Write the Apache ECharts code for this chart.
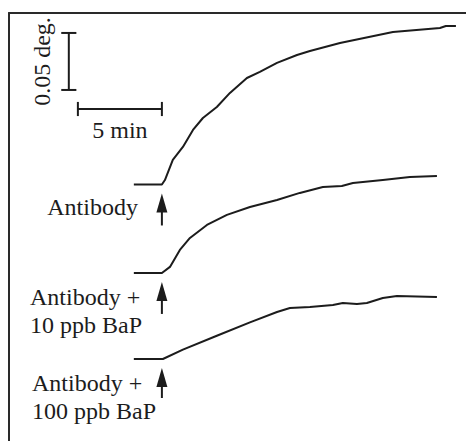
<!DOCTYPE html>
<html>
<head>
<meta charset="utf-8">
<script src="https://cdn.jsdelivr.net/npm/echarts@6/dist/echarts.min.js"></script>
<style>
html,body{margin:0;padding:0;background:#fff;}
#chart{width:466px;height:441px;}
</style>
</head>
<body>
<div id="chart"></div>
<script>
// Time (min, injection at 0) and response (deg, relative to each trace's baseline)
const t1 = [-1.67, 0, 0.18, 0.65, 1.25, 1.85, 2.44, 3.27, 4.05, 5.06, 5.83, 6.85, 8.04, 8.81, 10.6, 13.75, 16.55, 16.9, 17.5];
const r1 = [0, 0, 0.0039, 0.0215, 0.0329, 0.0478, 0.0583, 0.068, 0.0803, 0.0934, 0.0987, 0.1066, 0.1136, 0.1171, 0.1241, 0.1338, 0.1373, 0.139, 0.139];

const t2 = [-1.67, 0, 0.48, 1.07, 1.67, 2.68, 3.87, 5.24, 6.85, 8.21, 9.58, 10.71, 11.37, 13.15, 14.76, 16.37];
const r2 = [0, 0, 0.0053, 0.0202, 0.0307, 0.0421, 0.0509, 0.0579, 0.064, 0.0702, 0.0754, 0.0763, 0.0789, 0.0816, 0.0842, 0.0851];

const t3 = [-1.67, 0.06, 1.25, 3.27, 5.24, 6.85, 7.62, 8.81, 10.18, 10.77, 11.61, 12.2, 13.15, 13.99, 16.37];
const r3 = [0, 0, 0.0082, 0.0204, 0.0322, 0.0412, 0.0447, 0.0456, 0.0474, 0.0491, 0.0482, 0.0491, 0.0535, 0.0553, 0.0544];

const labels = [["Antibody"], ["Antibody +", "10 ppb BaP"], ["Antibody +", "100 ppb BaP"]];
const scaleX = 5;      // min
const scaleY = 0.05;   // deg
const scaleXLabel = "5 min";
const scaleYLabel = "0.05 deg.";

// vertical stacking of traces (deg)
const offsets = [0.225, 0.1474, 0.0719];

const INK = '#1c1c1c';
const FONT = "'Times New Roman', 'Liberation Serif', serif";
const fs = 24;

function zip(t, r, off) { return t.map((x, i) => [x, +(r[i] + off).toFixed(5)]); }
function seg(a, b) {
  return { type: 'line', data: [a, b], showSymbol: false, silent: true,
    lineStyle: { color: INK, width: 2 }, animation: false };
}
function txt(x, y, s, align, extra) {
  return Object.assign({ type: 'text', x: x, y: y,
    style: { text: s, fontFamily: FONT, fontSize: fs, fill: INK, align: align, verticalAlign: 'middle' } }, extra || {});
}

const traces = [[t1, r1], [t2, r2], [t3, r3]];
const series = traces.map((tr, i) => ({
  type: 'line', data: zip(tr[0], tr[1], offsets[i]), showSymbol: false, smooth: false,
  lineStyle: { color: INK, width: 2, join: 'round' }, animation: false
}));

// scale bars
const vx = -5.54, vb = 0.3079;
series.push(seg([vx, vb], [vx, vb + scaleY]));
series.push(seg([vx - 0.45, vb], [vx + 0.45, vb]));
series.push(seg([vx - 0.45, vb + scaleY], [vx + 0.45, vb + scaleY]));
const hy = 0.2912, hx0 = -scaleX, hx1 = 0;
series.push(seg([hx0, hy], [hx1, hy]));
series.push(seg([hx0, hy - 0.0062], [hx0, hy + 0.0062]));
series.push(seg([hx1, hy - 0.0062], [hx1, hy + 0.0062]));

const chart = echarts.init(document.getElementById('chart'), null, { renderer: 'svg' });
chart.setOption({
  animation: false,
  backgroundColor: '#fff',
  grid: { left: 9, top: 13, right: 0, bottom: 0 },
  xAxis: { type: 'value', min: -9.1, max: 18.1, position: 'top',
    axisLine: { show: true, onZero: false, lineStyle: { color: '#2a2a2a', width: 2 } },
    axisTick: { show: false }, axisLabel: { show: false }, splitLine: { show: false } },
  yAxis: { type: 'value', min: 0, max: 0.3754,
    axisLine: { show: true, onZero: false, lineStyle: { color: '#2a2a2a', width: 2 } },
    axisTick: { show: false }, axisLabel: { show: false }, splitLine: { show: false } },
  series: series
});

// arrows and labels placed relative to each trace's baseline at injection time
const g = [];
offsets.forEach((off, i) => {
  const p = chart.convertToPixel({ gridIndex: 0 }, [0, off]);
  const x = p[0], y = p[1];
  const tip = y + 9, headEnd = tip + 19, shaftEnd = tip + (i === 2 ? 30 : 32);
  g.push({ type: 'polygon', shape: { points: [[x, tip], [x - 5.5, headEnd], [x + 5.5, headEnd]] }, style: { fill: INK } });
  g.push({ type: 'line', shape: { x1: x, y1: headEnd - 1, x2: x, y2: shaftEnd }, style: { stroke: INK, lineWidth: 2 } });
  const lines = labels[i];
  if (lines.length === 1) {
    g.push(txt(x - 24, y + 23, lines[0], 'right'));
  } else {
    const lx = i === 1 ? 30 : 32;
    lines.forEach((s, k) => g.push(txt(lx, y + 24 + k * 28, s, 'left')));
  }
});
const hp = chart.convertToPixel({ gridIndex: 0 }, [(hx0 + hx1) / 2, hy]);
g.push(txt(hp[0], hp[1] + 21, scaleXLabel, 'center'));
const vp = chart.convertToPixel({ gridIndex: 0 }, [vx, vb + scaleY / 2]);
g.push(txt(vp[0] - 27, vp[1], scaleYLabel, 'center', { rotation: Math.PI / 2 }));
chart.setOption({ graphic: g });
</script>
</body>
</html>
